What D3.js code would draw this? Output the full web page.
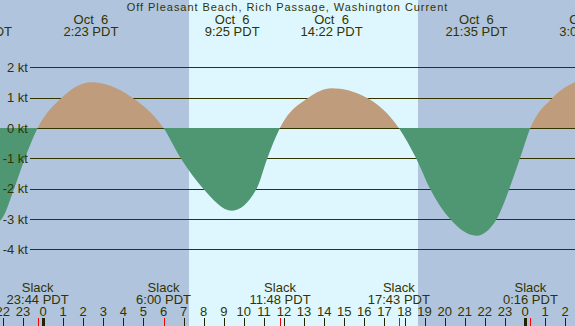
<!DOCTYPE html>
<html>
<head>
<meta charset="utf-8">
<script src="https://cdn.jsdelivr.net/npm/d3@7"></script>
<style>
  body { margin: 0; overflow: hidden; background: #fff; }
  text { font-family: "Liberation Sans", Arial, sans-serif; fill: #333300; }
</style>
</head>
<body>
<div id="main"></div>
<script>
// current curve: hours from Oct 6 00:00 PDT, speed in knots
var curveHours = [-3.09, -2.06, -1.44, -0.90, -0.267, 0.93, 2.383, 4.45, 6.0, 6.86, 7.98, 9.417,
                  10.64, 11.17, 11.8, 13.21, 14.367, 16.12, 17.717, 18.58, 19.27, 20.27, 21.583,
                  22.59, 23.22, 23.75, 24.267, 25.38, 27.07];
var curveKnots = [-3.4, -3, -2, -1, 0, 1, 1.51, 1, 0, -1, -2, -2.73,
                  -2, -1, 0, 1, 1.31, 1, 0, -1, -2, -3, -3.55,
                  -3, -2, -1, 0, 1, 1.65];

// slack water events (bottom labels)
var slackHours = [-0.267, 6.0, 11.8, 17.717, 24.267];
var slackLabels = ["23:44 PDT", "6:00 PDT", "11:48 PDT", "17:43 PDT", "0:16 PDT"];

// max flood / ebb events (top labels)
var maxHours = [-3.09, 2.383, 9.417, 14.367, 21.583, 27.07];
var maxDates = ["Oct  5", "Oct  6", "Oct  6", "Oct  6", "Oct  6", "Oct  7"];
var maxLabels = ["20:55 PDT", "2:23 PDT", "9:25 PDT", "14:22 PDT", "21:35 PDT", "3:04 PDT"];

// daylight (sunrise, sunset)
var sunHours = [7.27, 18.67];

var ktTicks = [2, 1, 0, -1, -2, -3, -4];
var ktLabels = ["2 kt", "1 kt", "0 kt", "-1 kt", "-2 kt", "-3 kt", "-4 kt"];
var hourTicks = d3.range(-2, 27);

var W = 575, H = 326;
var title = "Off Pleasant Beach, Rich Passage, Washington Current";

var svg = d3.select("#main")
  .append("svg")
    .attr("width", W)
    .attr("height", H);

var x = d3.scaleLinear()
    .domain([0, 24])
    .range([43, 525]);

var y = d3.scaleLinear()
    .domain([-4, 2])
    .range([249.3, 67.3]);

// night background, then the daylight band
svg.append("rect")
    .attr("width", W)
    .attr("height", H)
    .attr("fill", "#b0c4de");

svg.append("rect")
    .attr("x", x(sunHours[0]))
    .attr("width", x(sunHours[1]) - x(sunHours[0]))
    .attr("y", 0)
    .attr("height", H)
    .attr("fill", "#def7ff");

// grid lines
svg.selectAll("line.grid")
  .data(ktTicks)
  .enter().append("line")
    .attr("class", "grid")
    .attr("x1", 30)
    .attr("x2", W)
    .attr("y1", function(d) { return Math.round(y(d)) + 0.5; })
    .attr("y2", function(d) { return Math.round(y(d)) + 0.5; })
    .attr("stroke", "#333300")
    .attr("stroke-width", 1);

// flood above zero, ebb below: same area, two clips
var pts = curveHours.map(function(h, i) { return [h, curveKnots[i]]; });

var area = d3.area()
    .x(function(d) { return x(d[0]); })
    .y0(y(0))
    .y1(function(d) { return y(d[1]); })
    .curve(d3.curveMonotoneX);

var defs = svg.append("defs");
defs.append("clipPath").attr("id", "clipFlood")
  .append("rect")
    .attr("x", 0).attr("y", 0)
    .attr("width", W).attr("height", y(0));
defs.append("clipPath").attr("id", "clipEbb")
  .append("rect")
    .attr("x", 0).attr("y", y(0))
    .attr("width", W).attr("height", H - y(0));

svg.append("path")
    .datum(pts)
    .attr("d", area)
    .attr("fill", "#bf9c7b")
    .attr("clip-path", "url(#clipFlood)");

svg.append("path")
    .datum(pts)
    .attr("d", area)
    .attr("fill", "#4f9672")
    .attr("clip-path", "url(#clipEbb)");

// kt labels sit on top of the fill
svg.selectAll("text.kt")
  .data(ktTicks)
  .enter().append("text")
    .attr("class", "kt")
    .attr("x", 28)
    .attr("y", function(d) { return y(d) + 4.8; })
    .attr("text-anchor", "end")
    .style("font-size", "13px")
    .text(function(d, i) { return ktLabels[i]; });

// title
svg.append("text")
    .attr("x", W / 2)
    .attr("y", 11)
    .attr("text-anchor", "middle")
    .style("font-size", "11px")
    .style("letter-spacing", "0.95px")
    .text(title);

// max current labels along the top
var maxG = svg.selectAll("g.max")
  .data(maxHours)
  .enter().append("g")
    .attr("class", "max")
    .attr("transform", function(d) { return "translate(" + x(d) + ",0)"; });

maxG.append("text")
    .attr("y", 24)
    .attr("text-anchor", "middle")
    .attr("xml:space", "preserve")
    .style("font-size", "13px")
    .style("white-space", "pre")
    .text(function(d, i) { return maxDates[i]; });

maxG.append("text")
    .attr("y", 36)
    .attr("text-anchor", "middle")
    .style("font-size", "13px")
    .text(function(d, i) { return maxLabels[i]; });

// slack labels along the bottom
var slackG = svg.selectAll("g.slack")
  .data(slackHours)
  .enter().append("g")
    .attr("class", "slack")
    .attr("transform", function(d) { return "translate(" + x(d) + ",0)"; });

slackG.append("text")
    .attr("y", 292)
    .attr("text-anchor", "middle")
    .style("font-size", "13px")
    .text("Slack");

slackG.append("text")
    .attr("y", 303.5)
    .attr("text-anchor", "middle")
    .style("font-size", "13px")
    .text(function(d, i) { return slackLabels[i]; });

// hour axis
svg.selectAll("text.hour")
  .data(hourTicks)
  .enter().append("text")
    .attr("class", "hour")
    .attr("x", function(d) { return x(d); })
    .attr("y", 315.7)
    .attr("text-anchor", "middle")
    .style("font-size", "13px")
    .text(function(d) { return ((d % 24) + 24) % 24; });

svg.selectAll("line.hour")
  .data(hourTicks)
  .enter().append("line")
    .attr("class", "hour")
    .attr("x1", function(d) { return Math.round(x(d)) + 0.5; })
    .attr("x2", function(d) { return Math.round(x(d)) + 0.5; })
    .attr("y1", 318)
    .attr("y2", H)
    .attr("stroke", "#222200")
    .attr("stroke-width", function(d) { return d % 24 == 0 ? 3 : 1; });

// slack ticks in red
svg.selectAll("line.slackTick")
  .data(slackHours)
  .enter().append("line")
    .attr("class", "slackTick")
    .attr("x1", function(d) { return Math.round(x(d)) + 0.5; })
    .attr("x2", function(d) { return Math.round(x(d)) + 0.5; })
    .attr("y1", 318)
    .attr("y2", H)
    .attr("stroke", "#ff0000")
    .attr("stroke-width", 1);
</script>
</body>
</html>
